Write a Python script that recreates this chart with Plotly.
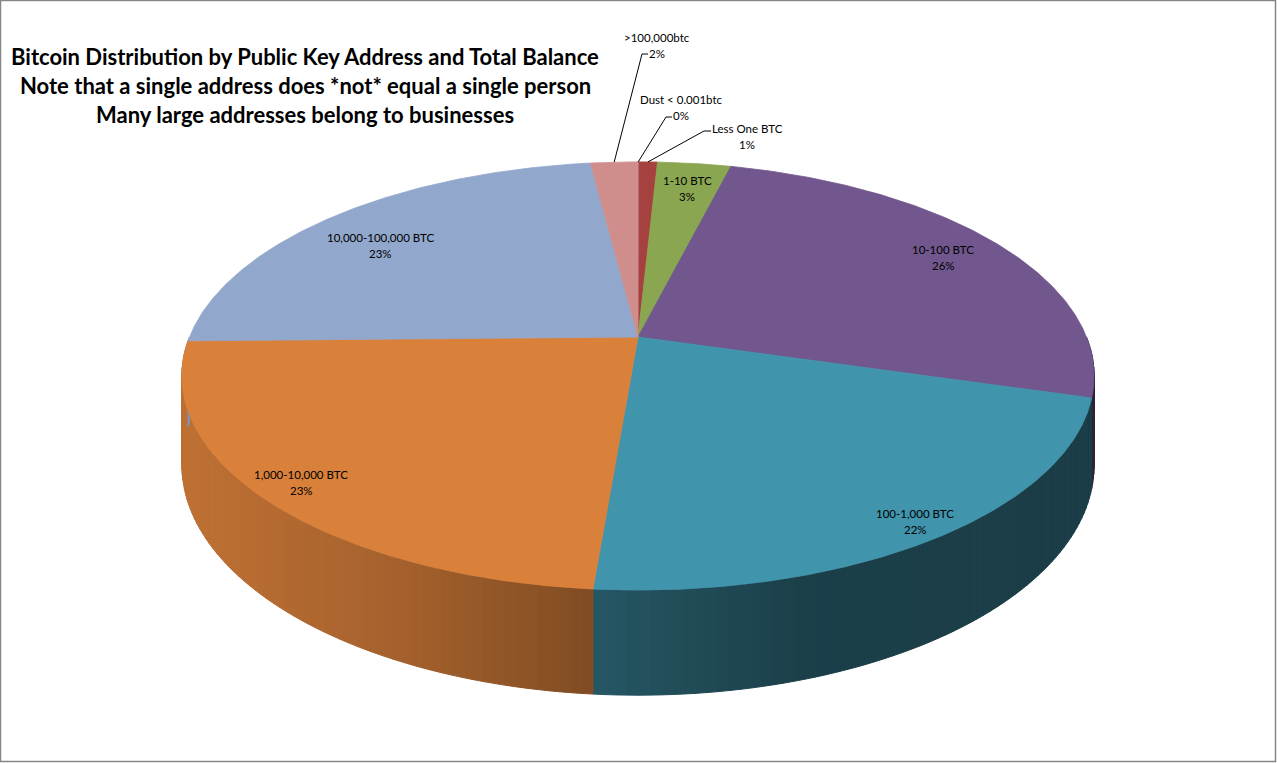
import numpy as np
import plotly.graph_objects as go

# ---------------- data ----------------
categories = ["Dust < 0.001btc", "Less One BTC", "1-10 BTC", "10-100 BTC",
              "100-1,000 BTC", "1,000-10,000 BTC", "10,000-100,000 BTC", ">100,000btc"]
values = [0.02, 0.8, 3.1, 25.6, 21.8, 23.4, 23.3, 2.0]
colors = ["#4F81BD", "#A5423F", "#8AA650", "#71578D",
          "#4094AC", "#D9803B", "#92A7CC", "#CF8E8C"]
title_lines = ["Bitcoin Distribution by Public Key Address and Total Balance",
               "Note that a single address does *not* equal a single person",
               "Many large addresses belong to businesses"]

# ---------------- geometry (3D pie projection) ----------------
W, H = 1277, 763
CX, CY = 638.0, 337.0
A, B, K, T = 448.5, 207.0, 0.182, 86.0


def proj(theta_deg, drop=0.0):
    t = np.radians(theta_deg)
    X = np.sin(t)
    Y = -np.cos(t)
    w = 1 - K * Y
    return CX + A * X / w, CY + B * Y / w + drop * T / w


def hex_rgb(h):
    h = h.lstrip("#")
    return [int(h[i:i + 2], 16) for i in (0, 2, 4)]


def shade(h, f):
    r, g, b = hex_rgb(h)
    return "rgb(%d,%d,%d)" % (round(r * f), round(g * f), round(b * f))


total = float(sum(values))
angles = np.concatenate([[0.0], np.cumsum(values) / total * 360.0])
pcts = ["%d%%" % int(np.floor(v / total * 100 + 0.5)) for v in values]

fig = go.Figure()

# side wall (visible front half), drawn as thin shaded strips
shade_x = [150, 200, 400, 560, 600, 700, 800, 1100]
shade_f = [0.89, 0.87, 0.76, 0.62, 0.58, 0.50, 0.43, 0.41]
for i in range(len(values)):
    a0 = max(angles[i], 90.0)
    a1 = min(angles[i + 1], 270.0)
    if a1 <= a0:
        continue
    n = max(1, int(np.ceil((a1 - a0) / 1.2)))
    edges = np.linspace(a0, a1, n + 1)
    for j in range(n):
        s0, s1 = edges[j], edges[j + 1]
        xt0, yt0 = proj(s0)
        xt1, yt1 = proj(s1)
        xb1, yb1 = proj(s1, 1)
        xb0, yb0 = proj(s0, 1)
        xm = (xt0 + xt1) / 2
        col = shade(colors[i], float(np.interp(xm, shade_x, shade_f)))
        fig.add_trace(go.Scatter(
            x=[xt0, xt1, xb1, xb0, xt0], y=[yt0, yt1, yb1, yb0, yt0],
            mode="lines", fill="toself", fillcolor=col,
            line=dict(color=col, width=1), hoverinfo="skip", showlegend=False))

# top face slices
for i in range(len(values)):
    th = np.linspace(angles[i], angles[i + 1], max(2, int((angles[i + 1] - angles[i]) / 0.5) + 2))
    px, py = proj(th)
    xs = np.concatenate([[CX], px, [CX]])
    ys = np.concatenate([[CY], py, [CY]])
    lw = 0.8 if values[i] / total > 0.002 else 0
    fig.add_trace(go.Scatter(
        x=xs, y=ys, mode="lines", fill="toself", fillcolor=colors[i],
        line=dict(color=colors[i], width=lw), name=categories[i],
        hoverinfo="name", showlegend=False))

# data labels
label_pos = {
    "Dust < 0.001btc": (681, 107),
    "Less One BTC": (747, 136),
    "1-10 BTC": (687, 188),
    "10-100 BTC": (943, 257),
    "100-1,000 BTC": (915, 521),
    "1,000-10,000 BTC": (301, 482),
    "10,000-100,000 BTC": (380, 245),
    ">100,000btc": (657, 45),
}
leader_end = {
    "Dust < 0.001btc": [(666, 117), (672, 117)],
    "Less One BTC": [(704, 131), (711, 131)],
    ">100,000btc": [(642, 54), (648, 54)],
}
lab_font = dict(family="Lato", size=11.5, color="#000000")
for i, c in enumerate(categories):
    lx, ly = label_pos[c]
    fig.add_annotation(x=lx, y=ly - 8, xref="x", yref="y", text=c,
                       showarrow=False, font=lab_font)
    fig.add_annotation(x=lx, y=ly + 8, xref="x", yref="y", text=pcts[i],
                       showarrow=False, font=lab_font)
    if c in leader_end:
        mid = (angles[i] + angles[i + 1]) / 2
        sx, sy = proj(mid)
        pts = [(sx, sy)] + leader_end[c]
        fig.add_trace(go.Scatter(x=[p[0] for p in pts], y=[p[1] for p in pts],
                                 mode="lines", line=dict(color="#000000", width=1),
                                 hoverinfo="skip", showlegend=False))

# title
for t, yy in zip(title_lines, [56, 85, 114]):
    fig.add_annotation(x=305, y=yy, xref="x", yref="y", text="<b>" + t + "</b>",
                       showarrow=False, font=dict(family="Lato", size=22, color="#000000"))

fig.update_layout(
    width=W, height=H, margin=dict(l=0, r=0, t=0, b=0),
    paper_bgcolor="white", plot_bgcolor="white",
    xaxis=dict(range=[0, W], visible=False, fixedrange=True),
    yaxis=dict(range=[H, 0], visible=False, fixedrange=True),
    shapes=[dict(type="rect", xref="x", yref="y", x0=0.5, y0=0.5, x1=1275.5, y1=761.5,
                 line=dict(color="#868686", width=1.5), fillcolor="rgba(0,0,0,0)", layer="above")],
)

fig.write_html("out.html", config={"displayModeBar": False},
               post_script="document.body.style.margin='0';document.body.style.overflow='hidden';")
